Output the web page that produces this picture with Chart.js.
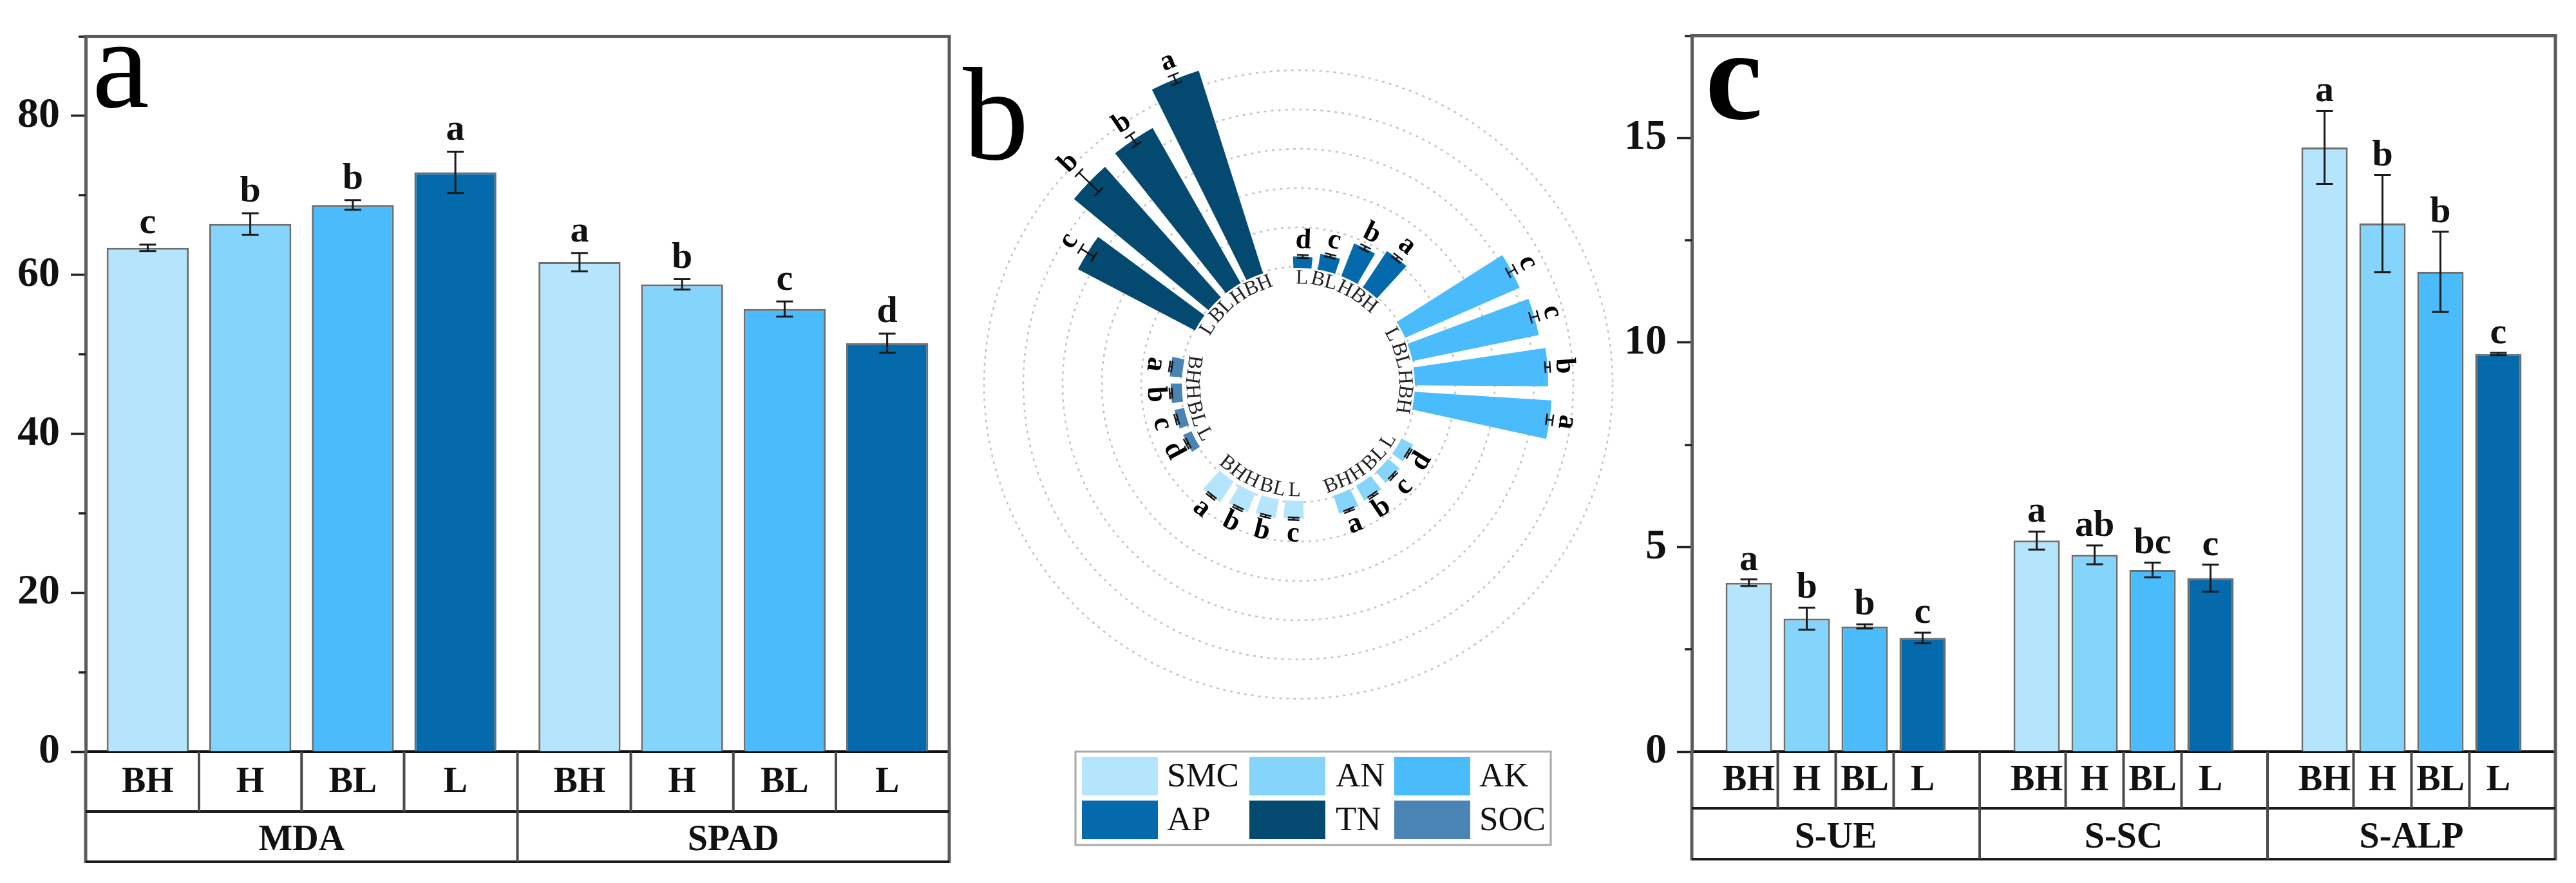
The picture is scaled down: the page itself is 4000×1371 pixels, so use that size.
<!DOCTYPE html>
<html>
<head>
<meta charset="utf-8">
<title>Soil panels a-c</title>
<script src="https://cdn.jsdelivr.net/npm/chart.js@4.4.1/dist/chart.umd.min.js"></script>
<style>
  html, body { margin: 0; padding: 0; background: #fff; }
  body { position: relative; width: 4000px; height: 1371px; overflow: hidden; }
  canvas { position: absolute; top: 0; }
</style>
</head>
<body>
<canvas id="panelA" width="1500" height="1371" style="left:0px"></canvas>
<canvas id="panelB" width="1160" height="1371" style="left:1440px"></canvas>
<canvas id="panelC" width="1550" height="1371" style="left:2450px"></canvas>
<script>
const SERIF = '"Liberation Serif", "Times New Roman", serif';

// treatments, same order everywhere
const treatments = ['BH', 'H', 'BL', 'L'];
const treatColors = ['#B5E5FC', '#84D4FC', '#4ABBFB', '#046AAC'];

// panel a
const groupsA = ['MDA', 'SPAD'];
const mdaMean = [63.4, 66.4, 68.8, 72.9];
const mdaErr = [0.4, 1.35, 0.6, 2.6];
const mdaSig = ['c', 'b', 'b', 'a'];
const spadMean = [61.6, 58.8, 55.7, 51.4];
const spadErr = [1.15, 0.65, 0.95, 1.2];
const spadSig = ['a', 'b', 'c', 'd'];

// panel c
const groupsC = ['S-UE', 'S-SC', 'S-ALP'];
const sueMean = [4.13, 3.25, 3.06, 2.78];
const sueErr = [0.08, 0.27, 0.05, 0.13];
const sueSig = ['a', 'b', 'b', 'c'];
const sscMean = [5.16, 4.81, 4.44, 4.24];
const sscErr = [0.22, 0.23, 0.18, 0.33];
const sscSig = ['a', 'ab', 'bc', 'c'];
const salpMean = [14.77, 12.91, 11.73, 9.72];
const salpErr = [0.89, 1.19, 0.98, 0.03];
const salpSig = ['a', 'b', 'b', 'c'];

// panel b, relative units (one ring = 1), order BH, H, BL, L
const soilVars = ['SMC', 'AN', 'AK', 'AP', 'TN', 'SOC'];
const soilColors = ['#B5E5FC', '#84D4FC', '#4ABBFB', '#046AAC', '#044A70', '#4A84B4'];
const smcMean = [0.6, 0.5, 0.45, 0.42];
const smcErr = [0.03, 0.03, 0.03, 0.03];
const smcSig = ['a', 'b', 'b', 'c'];
const anMean = [0.45, 0.4, 0.35, 0.3];
const anErr = [0.03, 0.03, 0.03, 0.03];
const anSig = ['a', 'b', 'c', 'd'];
const akMean = [3.46, 3.36, 3.25, 3.15];
const akErr = [0.08, 0.06, 0.1, 0.1];
const akSig = ['a', 'b', 'c', 'c'];
const apMean = [1.08, 0.86, 0.37, 0.26];
const apErr = [0.05, 0.05, 0.04, 0.04];
const apSig = ['a', 'b', 'c', 'd'];
const tnMean = [5.38, 4.51, 4.41, 3.33];
const tnErr = [0.12, 0.15, 0.35, 0.2];
const tnSig = ['a', 'b', 'b', 'c'];
const socMean = [0.28, 0.25, 0.22, 0.2];
const socErr = [0.03, 0.03, 0.03, 0.03];
const socSig = ['a', 'b', 'c', 'd'];
// clockwise from 12 o'clock
const ringOrder = ['AP', 'AK', 'AN', 'SMC', 'SOC', 'TN'];

function seg(ctx, x1, y1, x2, y2) {
  ctx.beginPath(); ctx.moveTo(x1, y1); ctx.lineTo(x2, y2); ctx.stroke();
}

// frame, table under the axis, error bars and letters
function framePlugin(o) {
  return {
    id: 'frame',
    afterDraw(chart) {
      const ctx = chart.ctx, ca = chart.chartArea, xs = chart.scales.x, ys = chart.scales.y;
      const left = ca.left, right = ca.right, top = ca.top, base = ca.bottom;
      const rowY = base + o.rowH, bottom = xs.bottom;
      const metas = chart.data.datasets.map((d, i) => chart.getDatasetMeta(i));
      ctx.save();
      // minor ticks
      ctx.strokeStyle = '#222'; ctx.lineWidth = 3.5;
      ys.ticks.forEach(t => {
        if (Math.abs(t.value % o.major) > 1e-6) {
          const py = Math.round(ys.getPixelForValue(t.value));
          seg(ctx, left - 11, py, left, py);
        }
      });
      // box
      ctx.strokeStyle = '#5c5c5c'; ctx.lineWidth = 5;
      seg(ctx, left - 2.5, top, right + 2.5, top);
      seg(ctx, right, top, right, bottom + 2);
      seg(ctx, left, base, left, bottom + 2);
      // table
      ctx.strokeStyle = '#1a1a1a'; ctx.lineWidth = 4;
      seg(ctx, left, rowY, right, rowY);
      seg(ctx, left, bottom, right, bottom);
      ctx.strokeStyle = '#4a4a4a';
      const nG = chart.data.labels.length;
      for (let gi = 0; gi < nG; gi++) {
        const bx = metas.map(m => m.data[gi].x);
        for (let k = 0; k < bx.length - 1; k++) {
          const mx = (bx[k] + bx[k + 1]) / 2;
          seg(ctx, mx, base, mx, rowY);
        }
        if (gi < nG - 1) {
          const mx = (bx[bx.length - 1] + metas[0].data[gi + 1].x) / 2;
          seg(ctx, mx, base, mx, bottom);
        }
      }
      ctx.fillStyle = '#111'; ctx.textAlign = 'center'; ctx.textBaseline = 'middle';
      ctx.font = 'bold 56px ' + SERIF;
      metas.forEach((m, ti) => m.data.forEach(bar => ctx.fillText(treatments[ti], bar.x, (base + rowY) / 2 + 2)));
      // error bars + letters
      ctx.strokeStyle = '#1a1a1a'; ctx.lineWidth = 3;
      ctx.font = 'bold 58px ' + SERIF; ctx.textBaseline = 'alphabetic';
      metas.forEach((m, ti) => m.data.forEach((bar, gi) => {
        const v = o.means[gi][ti], e = o.errs[gi][ti];
        const yHi = ys.getPixelForValue(v + e), yLo = ys.getPixelForValue(v - e);
        seg(ctx, bar.x, yLo, bar.x, yHi);
        seg(ctx, bar.x - 13, yHi, bar.x + 13, yHi);
        seg(ctx, bar.x - 13, yLo, bar.x + 13, yLo);
        ctx.fillText(o.sigs[gi][ti], bar.x, yHi - o.gap);
      }));
      // panel tag
      ctx.fillStyle = '#000'; ctx.textAlign = 'left';
      ctx.font = o.tagFont;
      ctx.fillText(o.tag, o.tagX, o.tagY);
      ctx.restore();
    }
  };
}

function barPanel(id, groups, means, errs, sigs, o) {
  const datasets = treatments.map((t, i) => ({
    label: t,
    data: means.map(m => m[i]),
    backgroundColor: treatColors[i],
    borderColor: '#6e6e6e',
    borderWidth: 3,
    categoryPercentage: o.catPct,
    barPercentage: 0.8
  }));
  return new Chart(document.getElementById(id), {
    type: 'bar',
    data: { labels: groups, datasets: datasets },
    options: {
      responsive: false, animation: false, devicePixelRatio: 1, events: [],
      layout: { padding: o.padding },
      plugins: { legend: { display: false }, tooltip: { enabled: false } },
      scales: {
        x: {
          grid: { display: false },
          border: { display: true, color: '#111', width: 4 },
          ticks: { color: '#111', padding: o.labelPad, font: { family: SERIF, size: 56, weight: 'bold' } },
          afterFit: s => { s.height = o.axisH; }
        },
        y: {
          min: 0, max: o.max,
          ticks: {
            stepSize: o.minor, padding: o.tickPad, color: '#111',
            font: { family: SERIF, size: 66, weight: 'bold' },
            callback: v => (Math.abs(v % o.major) < 1e-6 ? v : '')
          },
          grid: {
            drawOnChartArea: false, tickLength: 23, tickWidth: 3.5,
            tickColor: c => (c.tick && Math.abs(c.tick.value % o.major) < 1e-6 ? '#222' : 'rgba(0,0,0,0)')
          },
          border: { color: '#5c5c5c', width: 5 },
          afterFit: s => { s.width = o.axisW; }
        }
      }
    },
    plugins: [framePlugin(Object.assign({ means: means, errs: errs, sigs: sigs }, o))]
  });
}

barPanel('panelA', groupsA, [mdaMean, spadMean], [mdaErr, spadErr], [mdaSig, spadSig], {
  catPct: 0.95, max: 90, minor: 10, major: 20, tickPad: 17, axisW: 133, axisH: 171, rowH: 93,
  labelPad: 97, gap: 18, padding: { left: 0, top: 40, right: 26, bottom: 33 },
  tag: 'a', tagFont: '200px ' + SERIF, tagX: 143, tagY: 166
});

barPanel('panelC', groupsC, [sueMean, sscMean, salpMean], [sueErr, sscErr, salpErr], [sueSig, sscSig, salpSig], {
  catPct: 0.805, max: 17.5, minor: 2.5, major: 5, tickPad: 16, axisW: 177, axisH: 167, rowH: 88,
  labelPad: 93, gap: 15, padding: { left: 0, top: 40, right: 32, bottom: 37 },
  tag: 'c', tagFont: 'bold 200px ' + SERIF, tagX: 198, tagY: 184
});

// ---- panel b: circular bars ----
const soilMean = { SMC: smcMean, AN: anMean, AK: akMean, AP: apMean, TN: tnMean, SOC: socMean };
const soilErr = { SMC: smcErr, AN: anErr, AK: akErr, AP: apErr, TN: tnErr, SOC: socErr };
const soilSig = { SMC: smcSig, AN: anSig, AK: akSig, AP: apSig, TN: tnSig, SOC: socSig };

const BAR_DEG = 8.8, GAP_DEG = 3.2, GROUP_GAP_DEG = 15.2;
const polarLabels = [], polarData = [], polarColors = [], polarInfo = [];
ringOrder.forEach(name => {
  const k = soilVars.indexOf(name);
  for (let t = treatments.length - 1; t >= 0; t--) {   // L, BL, H, BH clockwise
    polarLabels.push(name + ' ' + treatments[t]);
    polarData.push(soilMean[name][t]);
    polarColors.push(soilColors[k]);
    polarInfo.push({ bar: true, treat: treatments[t], err: soilErr[name][t], sig: soilSig[name][t], angle: BAR_DEG });
    polarLabels.push('');
    polarData.push(null);
    polarColors.push('rgba(0,0,0,0)');
    polarInfo.push({ bar: false, angle: t === 0 ? GROUP_GAP_DEG : GAP_DEG });
  }
});

const polarDecor = {
  id: 'polarDecor',
  afterDatasetsDraw(chart) {
    const ctx = chart.ctx, rs = chart.scales.r;
    const cx = rs.xCenter, cy = rs.yCenter;
    const r0 = rs.getDistanceFromCenterForValue(0);
    ctx.save();
    ctx.fillStyle = '#fff';
    ctx.beginPath(); ctx.arc(cx, cy, r0 - 2, 0, Math.PI * 2); ctx.fill();
    chart.getDatasetMeta(0).data.forEach((arc, i) => {
      const info = polarInfo[i];
      if (!info.bar) return;
      const mid = (arc.startAngle + arc.endAngle) / 2;
      const deg = (((mid * 180 / Math.PI + 90) % 360) + 360) % 360;
      const flip = deg > 110 && deg < 290;
      const rot = flip ? mid - Math.PI / 2 : mid + Math.PI / 2;
      const ux = Math.cos(mid), uy = Math.sin(mid);
      // treatment name inside the hole
      ctx.fillStyle = '#222'; ctx.textAlign = 'center'; ctx.textBaseline = 'middle';
      ctx.font = '32px ' + SERIF;
      ctx.save(); ctx.translate(cx + ux * 165, cy + uy * 165); ctx.rotate(rot);
      ctx.fillText(info.treat, 0, 0); ctx.restore();
      // error bar
      const v = polarData[i];
      const rLo = rs.getDistanceFromCenterForValue(v - info.err);
      const rHi = rs.getDistanceFromCenterForValue(v + info.err);
      const px = -uy, py = ux, cap = 9;
      ctx.strokeStyle = '#111'; ctx.lineWidth = 2.5;
      seg(ctx, cx + ux * rLo, cy + uy * rLo, cx + ux * rHi, cy + uy * rHi);
      [rLo, rHi].forEach(rr => seg(ctx, cx + ux * rr - px * cap, cy + uy * rr - py * cap, cx + ux * rr + px * cap, cy + uy * rr + py * cap));
      // letter
      const rt = rHi + 22;
      ctx.fillStyle = '#000'; ctx.font = 'bold 44px ' + SERIF;
      ctx.save(); ctx.translate(cx + ux * rt, cy + uy * rt); ctx.rotate(rot);
      ctx.fillText(info.sig, 0, 0); ctx.restore();
    });
    ctx.restore();
  },
  afterDraw(chart) {
    const ctx = chart.ctx;
    ctx.save();
    ctx.fillStyle = '#000'; ctx.textAlign = 'left'; ctx.textBaseline = 'alphabetic';
    ctx.font = '205px ' + SERIF;
    ctx.fillText('b', 55, 247);
    // legend, 3 columns x 2 rows
    const bx = 230, by = 1167;
    ctx.strokeStyle = '#a8a8a8'; ctx.lineWidth = 3;
    ctx.strokeRect(bx, by, 738, 145);
    const colX = [240, 500, 725], textX = [372, 634, 857], rowY = [1175, 1243];
    ctx.font = '53px ' + SERIF; ctx.textBaseline = 'middle'; ctx.fillStyle = '#111';
    soilVars.forEach((name, k) => {
      const c = k % 3, r = Math.floor(k / 3);
      ctx.fillStyle = soilColors[k];
      ctx.fillRect(colX[c], rowY[r], 118, 60);
      ctx.fillStyle = '#111';
      ctx.fillText(name, textX[c], rowY[r] + 32);
    });
    ctx.restore();
  }
};

new Chart(document.getElementById('panelB'), {
  type: 'polarArea',
  data: {
    labels: polarLabels,
    datasets: [{
      data: polarData,
      backgroundColor: polarColors,
      borderWidth: 0,
      angle: c => polarInfo[c.dataIndex].angle
    }]
  },
  options: {
    responsive: false, animation: false, devicePixelRatio: 1, events: [],
    layout: { padding: { left: 27, right: 35, top: 48, bottom: 225 } },
    plugins: { legend: { display: false }, tooltip: { enabled: false } },
    scales: {
      r: {
        min: -3, max: 6, startAngle: -2.4,
        ticks: { display: false, stepSize: 1 },
        angleLines: { display: false },
        pointLabels: { display: false },
        grid: {
          circular: true, lineWidth: 2.5,
          color: c => (c.tick && c.tick.value >= 0 && c.tick.value <= 5 ? '#c2c2c2' : 'rgba(0,0,0,0)')
        },
        border: { dash: [4, 7] }
      }
    }
  },
  plugins: [polarDecor]
});
</script>
</body>
</html>
